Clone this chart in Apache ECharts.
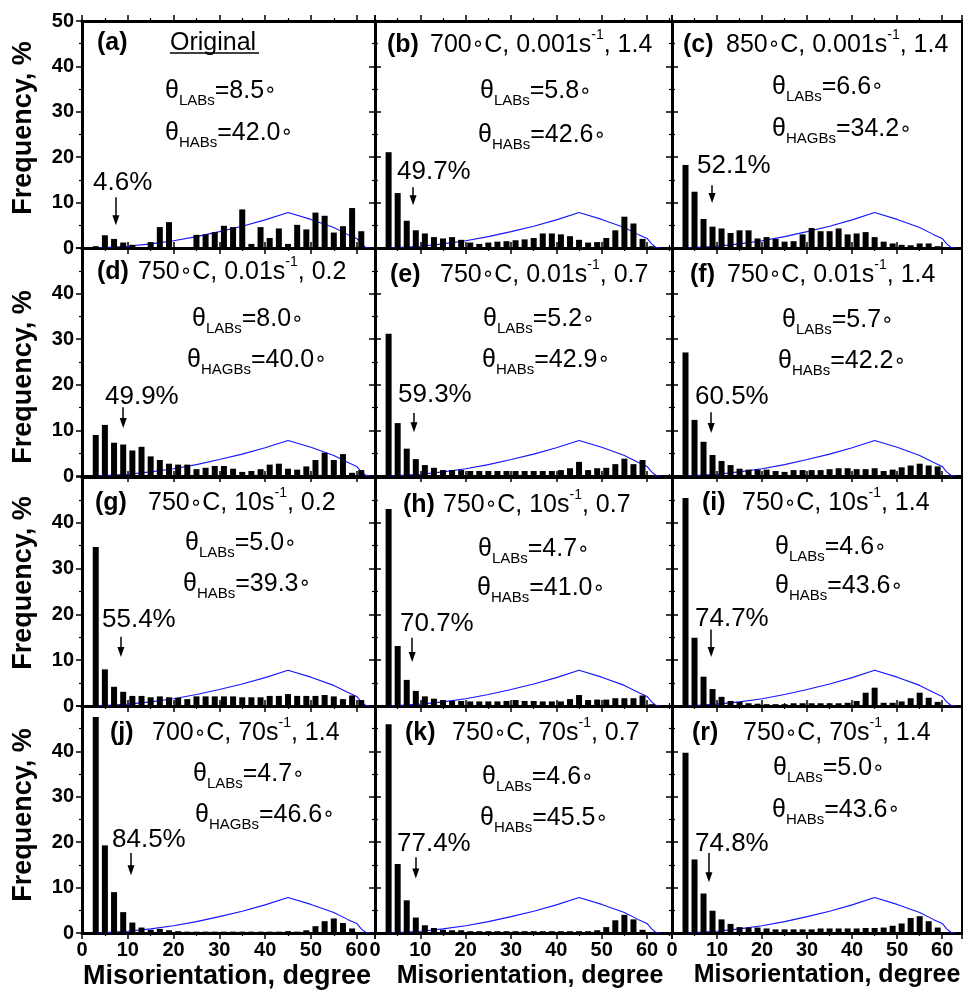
<!DOCTYPE html>
<html><head><meta charset="utf-8">
<script src="https://cdn.jsdelivr.net/npm/echarts/dist/echarts.min.js"></script>
<style>html,body{margin:0;padding:0;background:#fff}#c{width:963px;height:994px}</style>
</head><body><div id="c"></div>
<script>
// ---------------- data ----------------
const bins = [3,5,7,9,11,13,15,17,19,21,23,25,27,29,31,33,35,37,39,41,43,45,47,49,51,53,55,57,59,61];
const freqA = [0.4,2.8,2.0,1.2,0.7,0,1.3,4.6,5.7,0,0,2.9,3.0,3.5,4.9,4.6,8.5,0.9,4.6,2.2,4.3,0.9,5.1,4.1,7.8,7.1,3.4,4.8,8.8,3.7];
const freqB = [21.1,12.1,6.0,3.9,3.2,2.4,2.1,2.4,1.8,1.2,0.9,1.2,1.4,1.5,1.7,1.9,2.2,3.2,3.2,3.0,2.6,1.8,1.2,1.3,2.2,3.9,6.9,5.4,2.0,0.4];
const freqC = [18.3,12.4,6.4,4.7,4.3,3.3,3.9,3.9,2.1,2.4,2.0,1.4,1.5,3.0,4.4,3.7,3.7,4.3,3.0,3.2,3.5,2.4,1.4,1.0,0.7,0.6,1.0,1.0,0.4,0.2];
const freqD = [9.0,11.2,7.3,6.9,5.6,6.4,4.3,3.5,2.7,2.5,2.5,1.5,1.8,2.2,2.2,1.6,0.9,1.1,1.5,2.5,2.7,1.6,1.4,2.1,3.5,5.1,3.5,4.8,0.7,1.3];
const freqE = [31.2,11.6,6.0,3.7,2.4,1.8,1.3,1.3,1.3,1.1,1.1,1.1,1.1,1.1,1.1,1.1,1.1,1.1,1.1,1.3,1.7,3.1,1.3,1.7,1.8,2.6,3.8,2.6,3.5,0];
const freqF = [27.1,12.3,7.5,4.6,3.3,2.4,1.6,1.4,1.4,1.4,1.1,0.9,1.3,1.3,1.3,1.3,1.5,1.7,1.7,1.5,1.5,1.7,1.1,1.4,1.9,2.3,2.7,2.3,2.1,0];
const freqG = [34.7,8.0,4.2,3.1,2.2,2.2,1.9,2.1,1.9,1.8,1.5,2.1,2.1,2.1,2.1,2.1,1.9,1.9,1.9,2.2,2.2,2.6,2.2,2.2,2.2,2.4,2.1,1.5,2.3,1.3];
const freqH = [43.0,13.1,5.7,3.3,2.1,1.6,1.3,1.1,1.1,1.0,1.0,1.0,1.0,1.1,1.3,1.1,1.1,1.0,1.0,1.0,1.5,2.4,1.3,1.4,1.4,1.7,1.7,1.7,2.3,0.4];
const freqI = [45.4,14.9,6.4,3.7,2.0,1.1,0.9,0.6,0.5,0.4,0.4,0.4,0.6,0.6,0.6,0.6,0.6,0.6,0.7,1.1,2.9,4.0,0.7,0.7,1.0,1.7,2.9,1.8,0.9,0];
const freqJ = [47.6,19.3,9.0,4.6,2.3,1.2,0.7,0.9,0.6,0.4,0.3,0.3,0.3,0.3,0.3,0.3,0.3,0.3,0.3,0.3,0.3,0.4,0.3,0.6,1.5,2.6,3.2,2.2,1.0,0];
const freqK = [46.0,15.2,7.2,3.4,1.7,1.1,0.7,0.6,0.6,0.4,0.4,0.4,0.4,0.4,0.4,0.4,0.4,0.4,0.4,0.4,0.4,0.4,0.4,0.6,1.3,2.8,4.0,3.0,0.7,0];
const freqR = [39.7,16.2,8.7,4.9,3.0,2.0,1.3,1.2,1.2,1.0,0.8,0.8,0.8,0.8,0.8,1.0,1.0,1.0,1.0,1.0,1.1,1.1,1.2,1.6,2.1,3.3,3.7,2.6,1.2,0];
const freqs = [freqA,freqB,freqC,freqD,freqE,freqF,freqG,freqH,freqI,freqJ,freqK,freqR];

// Mackenzie reference curve
const mackX = [3,5,10,15,20,25,30,35,40,45,50,55,58,60,61,62,63];
const mackY = [0.05,0.1,0.4,0.9,1.6,2.5,3.6,4.8,6.2,7.8,6.3,4.5,3.0,2.1,0.9,0.1,0];

const letters = ['(a)','(b)','(c)','(d)','(e)','(f)','(g)','(h)','(i)','(j)','(k)','(r)'];
const temps   = ['','700','850','750','750','750','750','750','750','700','750','750'];
const rates   = ['','0.001','0.001','0.01','0.01','0.01','10','10','10','70','70','70'];
const strains = ['','1.4','1.4','0.2','0.7','1.4','0.2','0.7','1.4','1.4','0.7','1.4'];
const originalLabel = 'Original';
const labsVals  = ['8.5','5.8','6.6','8.0','5.2','5.7','5.0','4.7','4.6','4.7','4.6','5.0'];
const habsNames = ['HABs','HABs','HAGBs','HAGBs','HABs','HABs','HABs','HABs','HABs','HAGBs','HABs','HABs'];
const habsVals  = ['42.0','42.6','34.2','40.0','42.9','42.2','39.3','41.0','43.6','46.6','45.5','43.6'];
const lowFractions = ['4.6%','49.7%','52.1%','49.9%','59.3%','60.5%','55.4%','70.7%','74.7%','84.5%','77.4%','74.8%'];
const yTitle = 'Frequency, %';
const xTitle = 'Misorientation, degree';

// ---------------- layout ----------------
const colLeft = [82, 375, 672];
const colWidth = [293, 297, 290];
const colMax = [64, 65.5, 64.4];
const rowTop = [21, 248, 477, 706];
const rowHeight = [227, 228, 229, 227];

// annotation arrows in data units: [x, start, tip]
const arrows = [[7.4,11.2,5.0],[8.4,13.4,9.4],[8.9,13.8,9.9],[9.0,15.1,10.5],[8.6,13.8,9.6],[8.7,14.0,9.4],
                [8.5,15.1,10.7],[8.2,14.9,9.6],[8.7,16.7,10.7],[10.7,17.6,12.7],[9.0,16.7,12.0],[8.2,17.6,11.2]];

// text positions (pixels)
const txt = [
 {lx:97, cx:170, ty:43, t1x:165, t1y:91, t2x:165, t2y:133, px:93, py:183},
 {lx:387, cx:430, ty:45, t1x:480, t1y:91.5, t2x:478, t2y:135.5, px:397, py:171.5},
 {lx:683, cx:726, ty:45, t1x:772, t1y:87, t2x:772, t2y:129.5, px:697, py:165.5},
 {lx:97, cx:138, ty:272, t1x:192, t1y:319.5, t2x:187, t2y:360, px:105, py:396.5},
 {lx:390, cx:440, ty:275, t1x:483, t1y:319.5, t2x:482, t2y:360, px:398, py:395},
 {lx:690, cx:727, ty:275, t1x:782, t1y:320.5, t2x:778, t2y:361.5, px:695, py:396.5},
 {lx:95, cx:148, ty:503.5, t1x:185, t1y:543.5, t2x:183, t2y:584, px:102, py:619.5},
 {lx:403, cx:443, ty:505, t1x:478, t1y:549.5, t2x:477, t2y:588.5, px:400, py:623.5},
 {lx:702, cx:742, ty:503.5, t1x:775, t1y:547.5, t2x:775, t2y:586.5, px:695, py:618.5},
 {lx:110, cx:152, ty:733.5, t1x:193, t1y:774.5, t2x:195, t2y:815, px:112, py:840},
 {lx:405, cx:452, ty:733.5, t1x:482, t1y:777.5, t2x:480, t2y:818.5, px:397, py:843.5},
 {lx:692, cx:743, ty:733.5, t1x:773, t1y:768.5, t2x:772, t2y:810, px:695, py:843.5}
];

const FONT = "'Liberation Sans', Arial, Helvetica, sans-serif";
const richBase = {
  n: {fontSize: 25, lineHeight: 34, fontFamily: FONT, fill: '#000'},
  d: {fontSize: 20, lineHeight: 34, fontFamily: "'DejaVu Sans', sans-serif", fill: '#000'},
  p: {fontSize: 14, lineHeight: 26, verticalAlign: 'top', fontFamily: FONT, fill: '#000'},
  s: {fontSize: 15, lineHeight: 10, verticalAlign: 'bottom', fontFamily: FONT, fill: '#000'}
};

const grids = [], xAxes = [], yAxes = [], series = [], graphics = [];
const lineStyleAxis = {color: '#000', width: 3};
const tickStyle = {show: true, inside: false, length: 6, lineStyle: {color: '#000', width: 1.5}};
const minorStyle = {show: true, splitNumber: 2, length: 3, lineStyle: {color: '#000', width: 1.2}};

for (let p = 0; p < 12; p++) {
  const row = Math.floor(p / 3), col = p % 3;
  grids.push({left: colLeft[col], top: rowTop[row], width: colWidth[col], height: rowHeight[row], containLabel: false});
  const xBase = {type: 'value', gridIndex: p, min: 0, max: colMax[col], interval: 10,
    axisLine: {show: true, onZero: false, lineStyle: lineStyleAxis}, axisTick: tickStyle, minorTick: minorStyle,
    splitLine: {show: false}};
  xAxes.push(Object.assign({}, xBase, {position: 'bottom',
    axisLabel: {show: row === 3, showMaxLabel: false, fontSize: 20, fontWeight: 'bold', fontFamily: FONT, color: '#000', margin: 7}}));
  xAxes.push(Object.assign({}, xBase, {position: 'top', axisLabel: {show: false}}));
  const yBase = {type: 'value', gridIndex: p, min: 0, max: 50, interval: 10,
    axisLine: {show: true, onZero: false, lineStyle: lineStyleAxis}, axisTick: tickStyle, minorTick: minorStyle,
    splitLine: {show: false}};
  yAxes.push(Object.assign({}, yBase, {position: 'left',
    axisLabel: {show: col === 0, showMaxLabel: row === 0, fontSize: 20, fontWeight: 'bold', fontFamily: FONT, color: '#000', margin: 8}}));
  yAxes.push(Object.assign({}, yBase, {position: 'right', axisLabel: {show: false}}));

  const ar = arrows[p];
  series.push({
    type: 'line', xAxisIndex: 2 * p, yAxisIndex: 2 * p, z: 2,
    data: mackX.map((x, i) => [x, mackY[i]]),
    showSymbol: false, symbol: 'none', lineStyle: {color: '#1515ff', width: 1.1}, silent: true
  });
  series.push({
    type: 'bar', xAxisIndex: 2 * p, yAxisIndex: 2 * p, z: 3,
    data: bins.map((b, i) => [b, freqs[p][i]]),
    barWidth: 6, itemStyle: {color: '#000'}, silent: true,
    markLine: {
      silent: true, animation: false, label: {show: false},
      lineStyle: {color: '#000', width: 1.5, type: 'solid'},
      symbol: ['none', 'none'],
      data: [[
        {coord: [ar[0], ar[1]], symbol: 'none'},
        {coord: [ar[0], ar[2] + 1.1], symbol: 'path://M5,0 L10,12 L0,12 Z', symbolSize: [7, 10]}
      ]]
    }
  });

  const t = txt[p];
  graphics.push({type: 'text', x: t.lx, y: t.ty, z: 10,
    style: {text: letters[p], fontSize: 25, fontWeight: 'bold', fontFamily: FONT, fill: '#000', align: 'left', verticalAlign: 'middle'}});
  if (p === 0) {
    graphics.push({type: 'text', x: t.cx, y: t.ty, z: 10,
      style: {text: originalLabel, fontSize: 25, fontFamily: FONT, fill: '#000', align: 'left', verticalAlign: 'middle'}});
    graphics.push({type: 'line', z: 10, shape: {x1: 170, y1: 53, x2: 259, y2: 53}, style: {stroke: '#000', lineWidth: 1.5}});
  } else {
    graphics.push({type: 'text', x: t.cx, y: t.ty, z: 10,
      style: {text: `{n|${temps[p]}}{d|∘}{n|C, ${rates[p]}s}{p|-1}{n|, ${strains[p]}}`, rich: richBase,
              align: 'left', verticalAlign: 'middle'}});
  }
  graphics.push({type: 'text', x: t.t1x, y: t.t1y, z: 10,
    style: {text: `{n|θ}{s|LABs}{n|=${labsVals[p]}}{d|∘}`, rich: richBase, align: 'left', verticalAlign: 'middle'}});
  graphics.push({type: 'text', x: t.t2x, y: t.t2y, z: 10,
    style: {text: `{n|θ}{s|${habsNames[p]}}{n|=${habsVals[p]}}{d|∘}`, rich: richBase, align: 'left', verticalAlign: 'middle'}});
  graphics.push({type: 'text', x: t.px, y: t.py, z: 10,
    style: {text: lowFractions[p], fontSize: 26, fontFamily: FONT, fill: '#000', align: 'left', verticalAlign: 'middle'}});
}

// axis titles
const yTitleY = [128, 377, 583, 815];
yTitleY.forEach(y => graphics.push({type: 'text', x: 24, y: y, rotation: Math.PI / 2, z: 10,
  style: {text: yTitle, fontSize: 27, fontWeight: 'bold', fontFamily: FONT, fill: '#000', align: 'center', verticalAlign: 'middle'}}));
const xTitlePos = [[227, 977, 27], [530, 976, 25], [827, 975, 25]];
xTitlePos.forEach(([x, y, fs]) => graphics.push({type: 'text', x: x, y: y, z: 10,
  style: {text: xTitle, fontSize: fs, fontWeight: 'bold', fontFamily: FONT, fill: '#000', align: 'center', verticalAlign: 'middle'}}));

const chart = echarts.init(document.getElementById('c'), null, {renderer: 'canvas'});
chart.setOption({
  animation: false,
  backgroundColor: '#fff',
  grid: grids, xAxis: xAxes, yAxis: yAxes, series: series, graphic: graphics
});
</script>
</body></html>
